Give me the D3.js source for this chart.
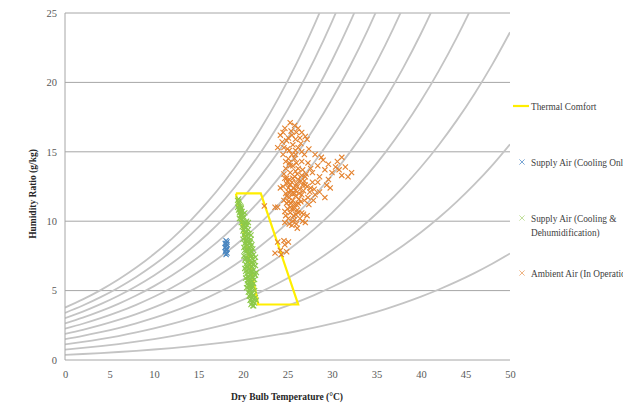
<!DOCTYPE html>
<html>
<head>
<meta charset="utf-8">
<script src="https://cdn.jsdelivr.net/npm/d3@7"></script>
<style>
  body { margin: 0; background: #fff; }
  svg { display: block; }
</style>
</head>
<body>
<svg id="chart" width="623" height="408"></svg>
<script>
// saturation pressure table (kPa) used for the RH curves
const satTemps = [0,2,4,6,8,10,12,14,16,18,20,22,24,26,28,30,32,34,36,38,40,42,44,46,48,50];
const satPress = [0.6113,0.7060,0.8135,0.9353,1.0729,1.2282,1.4028,1.5989,1.8187,2.0646,2.3392,2.6452,2.9856,3.3637,3.7828,4.2467,4.7592,5.3247,5.9479,6.6335,7.3849,8.2096,9.1124,10.098,11.173,12.352];
const rhLevels = [10,20,30,40,50,60,70,80,90,100];
const atmPress = 101.325;

const xTicks = [0,5,10,15,20,25,30,35,40,45,50];
const yTicks = [0,5,10,15,20,25];

const comfortZone = [[19.2,12],[22,12],[26.2,4],[21.7,4],[19.2,12]];

const coolingOnly = [[18.1,8.6],[18.2,8.5],[18.0,8.4],[18.2,8.3],[18.1,8.2],[18.0,8.1],[18.2,8.0],[18.1,7.9],[18.0,7.8],[18.2,7.7],[18.1,7.6],[18.1,8.4],[18.1,8.0]];

const coolingDehum = [[19.4,11.5],[19.5,11.3],[19.6,11.2],[19.4,11.0],[19.7,11.1],[19.5,10.8],[19.8,10.9],[19.6,10.6],[19.9,10.7],[19.7,10.4],[20.0,10.5],[19.6,10.2],[19.9,10.1],[20.1,10.3],[19.8,9.9],[20.2,9.8],[20.4,10.0],[19.9,9.6],[20.3,9.5],[20.5,9.7],[20.0,9.3],[20.2,9.2],[20.6,9.4],[20.1,9.0],[20.4,8.9],[20.7,9.1],[20.0,8.7],[20.3,8.6],[20.6,8.8],[20.9,8.7],[20.2,8.4],[20.5,8.3],[20.8,8.5],[21.0,8.3],[20.1,8.1],[20.4,8.0],[20.7,8.1],[21.1,8.0],[20.3,7.8],[20.6,7.7],[20.9,7.8],[21.2,7.6],[20.1,7.5],[20.4,7.4],[20.8,7.5],[21.1,7.3],[21.4,7.4],[20.2,7.2],[20.5,7.1],[20.9,7.0],[21.3,7.1],[20.3,6.9],[20.7,6.8],[21.0,6.7],[21.4,6.8],[20.2,6.6],[20.6,6.5],[20.9,6.4],[21.2,6.5],[21.5,6.3],[20.4,6.2],[20.8,6.1],[21.1,6.0],[21.4,6.1],[20.3,5.9],[20.6,5.8],[21.0,5.7],[21.3,5.8],[20.5,5.5],[20.8,5.4],[21.2,5.5],[20.4,5.2],[20.7,5.1],[21.0,5.2],[21.3,5.0],[20.6,4.9],[20.9,4.8],[21.2,4.7],[20.7,4.6],[21.0,4.5],[21.4,4.5],[20.8,4.3],[21.1,4.2],[21.5,4.3],[20.9,4.0],[21.3,4.1],[21.2,3.9],
  [19.5,11.4],[19.6,10.9],[19.8,10.5],[20.0,10.0],[20.2,9.6],[20.4,9.2],[20.5,8.5],[20.8,8.0],[20.6,7.3],[20.5,6.7],[21.0,6.2],[20.9,5.6],[20.8,5.0],[21.0,4.8],[20.9,9.0],[21.0,7.8],[20.7,7.6],[20.3,6.4],[20.8,6.9],[21.2,6.9],[20.6,6.0],[21.1,5.3],[20.3,8.2],[20.6,9.9],[19.8,10.2],[20.2,10.6],
  [19.5,11.6],[19.7,10.7],[19.9,10.4],[20.1,9.7],[20.3,9.9],[20.1,9.4],[20.5,9.1],[20.2,8.8],[20.7,8.4],[20.4,8.6],[20.2,7.9],[20.5,7.9],[20.8,7.2],[21.0,7.5],[20.3,7.3],[20.4,6.8],[20.6,6.3],[21.1,6.4],[20.5,6.0],[20.8,5.8],[21.1,5.9],[20.6,5.4],[21.0,5.4],[20.9,5.1],[20.8,4.7],[21.1,4.6],[21.0,4.1],[21.2,4.4],[20.9,4.4],[21.1,3.9],[19.7,10.8],[19.8,11.0],[20.0,9.8],[20.6,8.6],[20.9,8.2],[21.0,7.0],[20.7,6.6],[21.3,6.2],[20.5,5.7],[20.7,5.3]];

const ambient = [[25.3,17.1],[25.8,16.9],[26.2,16.7],[26.6,16.4],[27.0,16.1],[27.2,15.9],[24.7,16.7],[24.2,16.2],[24.4,15.7],[23.9,15.3],[25.1,16.0],[25.6,15.5],[26.2,15.3],[25.5,14.8],[25.1,14.5],[25.8,14.5],[25.6,14.0],[26.2,13.8],[25.3,13.5],[26.6,14.3],[27.3,14.2],[28.1,14.8],[28.4,14.0],[29.0,14.4],[29.2,13.7],[30.0,13.5],[30.6,14.3],[31.1,14.6],[31.5,13.9],[32.2,13.5],[31.8,13.2],[31.1,13.3],[27.8,13.5],[27.0,13.2],[24.9,13.1],
  [24.7,13.1],[25.5,12.8],[26.2,13.0],[27.0,12.6],[27.8,12.8],[28.1,11.9],[27.9,11.5],[28.4,12.8],[29.4,12.6],[29.2,11.7],[29.8,12.4],[24.5,12.5],[24.2,12.4],[25.1,12.1],[25.8,12.0],[26.6,11.9],[27.3,11.7],[25.1,11.4],[26.2,11.3],[23.9,11.0],[24.7,10.7],[25.5,10.9],[26.1,10.8],[26.6,10.6],[27.2,10.4],[25.1,10.2],[25.8,10.1],[27.0,9.9],[25.5,9.7],[26.1,9.5],[24.7,9.9],[23.6,11.0],[23.9,8.5],[24.7,8.3],[25.1,8.5],[24.9,7.8],[23.6,7.7],[24.2,7.9],[22.4,11.1],
  [25.0,12.9],[25.3,12.6],[25.7,12.4],[26.0,12.7],[26.4,12.3],[25.4,12.2],[25.9,11.8],[26.3,11.6],[25.2,11.7],[25.6,11.5],[26.8,12.2],[27.2,12.5],[26.5,12.9],[24.8,12.0],[25.8,13.2],[26.9,11.5],[27.5,12.1],[25.3,10.6],[25.9,10.5],[26.4,10.2],[25.0,10.9],[26.7,10.0],[25.7,10.9],[24.9,11.3],[26.0,11.2],[24.6,11.5],[25.0,15.2],[25.9,15.9],[26.5,15.6],[24.8,14.3],[26.9,14.8],[27.6,13.8],[28.6,13.2],[29.6,13.0],[30.4,13.9],[25.4,16.5],[24.5,14.8],[26.0,14.2],[27.4,15.2],[24.3,7.6],[24.6,8.6],
  [25.2,13.0],[25.6,13.1],[26.1,12.5],[26.7,12.6],[25.5,12.0],[25.1,12.4],[25.9,12.2],[26.3,12.0],[26.9,12.9],[27.6,12.4],[28.0,12.3],[25.4,11.3],[25.8,11.2],[26.5,11.4],[24.9,11.8],[25.3,11.0],[25.7,10.4],[26.2,10.6],[25.6,10.0],[25.2,9.8],[26.0,9.8],[26.8,10.5],[24.8,10.4],[27.4,11.2],[28.6,12.1],[27.1,13.4],[26.6,13.3],[24.6,13.4],[24.9,12.7],[26.1,13.4],
  [24.9,15.8],[25.5,16.2],[24.6,15.3],[25.2,15.1],[25.9,15.1],[26.6,15.0],[25.2,14.2],[24.8,13.8],[25.9,13.6],[26.7,13.7],[24.5,16.4],[26.0,16.4],[28.8,14.6],[29.6,14.1],[30.8,13.7],[25.3,14.0],[25.9,14.8],[26.4,16.0]];

const serif = '"Liberation Serif", "Times New Roman", serif';
const margin = {left: 65, right: 510, top: 13, bottom: 360};

const xScale = d3.scaleLinear().domain([0, 50]).range([margin.left, margin.right]);
const yScale = d3.scaleLinear().domain([0, 25]).range([margin.bottom, margin.top]);

const svg = d3.select('#chart');

svg.append('clipPath').attr('id', 'plotClip')
   .append('rect')
   .attr('x', margin.left).attr('y', margin.top)
   .attr('width', margin.right - margin.left)
   .attr('height', margin.bottom - margin.top);

// horizontal grid lines
svg.append('g')
   .selectAll('line')
   .data(yTicks.filter(d => d > 0))
   .enter().append('line')
   .attr('x1', margin.left).attr('x2', margin.right)
   .attr('y1', d => yScale(d)).attr('y2', d => yScale(d))
   .attr('stroke', '#a6a6a6').attr('stroke-width', 1);

// relative humidity curves
const rhLine = d3.line()
   .x(d => xScale(d[0]))
   .y(d => yScale(d[1]))
   .curve(d3.curveMonotoneX);

svg.append('g')
   .attr('clip-path', 'url(#plotClip)')
   .selectAll('path')
   .data(rhLevels)
   .enter().append('path')
   .attr('d', rh => rhLine(satTemps.map((t, i) => {
       const pv = rh / 100 * satPress[i];
       return [t, 622 * pv / (atmPress - pv)];
   })))
   .attr('fill', 'none')
   .attr('stroke', '#c4c4c4')
   .attr('stroke-width', 1.8);

// axes lines
svg.append('line')
   .attr('x1', margin.left).attr('x2', margin.left)
   .attr('y1', margin.top).attr('y2', margin.bottom)
   .attr('stroke', '#a6a6a6');
svg.append('line')
   .attr('x1', margin.left).attr('x2', margin.right)
   .attr('y1', margin.bottom).attr('y2', margin.bottom)
   .attr('stroke', '#a6a6a6');

const xAxis = svg.append('g')
   .attr('transform', `translate(0,${margin.bottom})`)
   .call(d3.axisBottom(xScale).tickValues(xTicks).tickSize(0).tickPadding(11));
const yAxis = svg.append('g')
   .attr('transform', `translate(${margin.left},0)`)
   .call(d3.axisLeft(yScale).tickValues(yTicks).tickSize(0).tickPadding(8));

[xAxis, yAxis].forEach(a => {
    a.select('.domain').remove();
    a.selectAll('text')
     .style('font-family', serif)
     .style('font-size', '10.5px')
     .attr('fill', '#595959');
});

// thermal comfort zone
svg.append('path')
   .datum(comfortZone)
   .attr('d', d3.line().x(d => xScale(d[0])).y(d => yScale(d[1])))
   .attr('fill', 'none')
   .attr('stroke', '#ffee00')
   .attr('stroke-width', 2.2);

const cross = 'M-2.6,-2.6L2.6,2.6M-2.6,2.6L2.6,-2.6';

function drawSeries(data, color){
    svg.append('g')
       .selectAll('path')
       .data(data)
       .enter().append('path')
       .attr('d', cross)
       .attr('transform', d => `translate(${xScale(d[0])},${yScale(d[1])})`)
       .attr('fill', 'none')
       .attr('stroke', color)
       .attr('stroke-width', 1.1);
}

drawSeries(coolingOnly, '#4a86c0');
drawSeries(coolingDehum, '#8cc94a');
drawSeries(ambient, '#e4822e');

// axis titles
svg.append('text')
   .attr('x', 287).attr('y', 400)
   .attr('text-anchor', 'middle')
   .style('font-family', serif)
   .style('font-weight', 'bold')
   .style('font-size', '9.5px')
   .attr('fill', '#262626')
   .text('Dry Bulb Temperature (°C)');

svg.append('text')
   .attr('transform', 'translate(36,194) rotate(-90)')
   .attr('text-anchor', 'middle')
   .style('font-family', serif)
   .style('font-weight', 'bold')
   .style('font-size', '9.5px')
   .attr('fill', '#262626')
   .text('Humidity Ratio (g/kg)');

// legend
const legend = svg.append('g');

legend.append('line')
   .attr('x1', 513).attr('x2', 529).attr('y1', 106).attr('y2', 106)
   .attr('stroke', '#ffee00').attr('stroke-width', 2.2);

const legendItems = [
    {label: ['Thermal Comfort'], color: null, y: 106},
    {label: ['Supply Air (Cooling Only)'], color: '#7aa6d4', y: 162},
    {label: ['Supply Air (Cooling &', 'Dehumidification)'], color: '#c2e09c', y: 218},
    {label: ['Ambient Air (In Operation)'], color: '#efb585', y: 273}
];

legendItems.forEach(item => {
    if (item.color) {
        legend.append('path')
           .attr('d', cross)
           .attr('transform', `translate(522,${item.y})`)
           .attr('fill', 'none')
           .attr('stroke', item.color);
    }
    item.label.forEach((t, i) => {
        legend.append('text')
           .attr('x', 531).attr('y', item.y + 3.5 + i * 14)
           .style('font-family', serif)
           .style('font-size', '9.3px')
           .attr('fill', '#404040')
           .text(t);
    });
});
</script>
</body>
</html>
